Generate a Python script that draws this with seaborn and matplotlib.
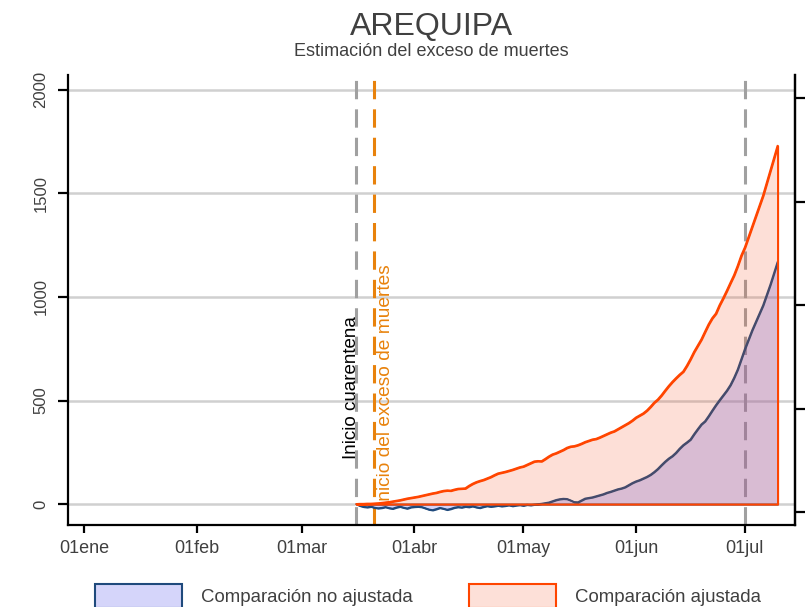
import matplotlib
matplotlib.use("Agg")
import numpy as np
import pandas as pd
import matplotlib.pyplot as plt
from matplotlib.patches import Patch
import seaborn as sns

# ---------------- data ----------------
start_date = "2020-03-16"
end_date = "2020-07-10"

adjusted = [
    0, 1, 1, 2, 2, 3, 4, 6, 8, 10,
    13, 16, 19, 23, 27, 30, 33, 36, 40, 44,
    48, 52, 55, 60, 64, 66, 65, 70, 74, 75,
    76, 88, 98, 106, 112, 117, 124, 131, 140, 148,
    152, 156, 161, 166, 172, 178, 182, 190, 198, 206,
    208, 207, 218, 230, 240, 246, 254, 262, 272, 278,
    280, 285, 292, 300, 306, 312, 315, 322, 330, 338,
    346, 352, 362, 372, 382, 392, 404, 418, 428, 438,
    452, 470, 490, 505, 525, 548, 570, 590, 608, 625,
    640, 668, 700, 735, 765, 795, 832, 868, 898, 920,
    960, 994, 1030, 1068, 1105, 1150, 1200, 1240, 1290, 1340,
    1390, 1440, 1490, 1550, 1610, 1670, 1730,
]

unadjusted = [
    0, -8, -13, -15, -12, -17, -20, -18, -14, -19,
    -22, -16, -12, -17, -21, -15, -13, -12, -14, -20,
    -26, -29, -24, -18, -22, -27, -23, -17, -14, -16,
    -12, -14, -10, -15, -18, -13, -9, -12, -10, -7,
    -10, -8, -5, -9, -6, -4, -7, -3, -5, -2,
    0, 2, 5, 8, 14, 20, 24, 26, 25, 18,
    10, 9, 18, 27, 30, 33, 38, 43, 48, 55,
    60, 66, 72, 76, 82, 92, 102, 110, 116, 124,
    132, 142, 155, 170, 188, 205, 220, 232, 248, 268,
    285, 298, 312, 338, 362, 385, 400, 425, 452, 478,
    502, 525, 548, 575, 610, 650, 700, 750, 795, 840,
    880, 920, 960, 1010, 1060, 1115, 1170,
]

month_ticks = ["2020-01-01", "2020-02-01", "2020-03-01", "2020-04-01",
               "2020-05-01", "2020-06-01", "2020-07-01"]
month_labels = ["01ene", "01feb", "01mar", "01abr", "01may", "01jun", "01jul"]
y_ticks = [0, 500, 1000, 1500, 2000]

quarantine_date = "2020-03-16"
excess_date = "2020-03-21"
reference_date = "2020-07-01"

title = "AREQUIPA"
subtitle = "Estimación del exceso de muertes"
label_unadj = "Comparación no ajustada"
label_adj = "Comparación ajustada"
label_quarantine = "Inicio cuarentena"
label_excess = "Inicio del exceso de muertes"

# ---------------- style ----------------
sns.set_theme(style="white")
plt.rcParams["font.family"] = ["Liberation Sans", "DejaVu Sans"]

df = pd.DataFrame({
    "fecha": pd.date_range(start_date, end_date, freq="D"),
    "ajustada": adjusted,
    "no_ajustada": unadjusted,
})

TXT = "#404040"
NAVY = "#1f4a7c"
ORED = "#ff4500"
DORANGE = "#e8820c"
GRAYD = "#a0a0a0"

fig, ax = plt.subplots(figsize=(8.1, 6.07), dpi=100)
fig.subplots_adjust(left=68 / 810, right=795 / 810, bottom=1 - 525 / 607, top=1 - 75 / 607)

# grid
ax.set_yticks(y_ticks)
ax.yaxis.grid(True, color="#d0d0d0", lw=1.8, zorder=0)
ax.xaxis.grid(False)
ax.set_axisbelow(True)

# vertical reference lines
for d, c in [(quarantine_date, GRAYD), (excess_date, DORANGE), (reference_date, GRAYD)]:
    ax.axvline(pd.Timestamp(d), color=c, lw=2.2, dashes=(6, 3.3), zorder=1)

# annotations
ax.annotate(label_quarantine, xy=(pd.Timestamp(quarantine_date), 220), xytext=(2.5, 0),
            textcoords="offset points", rotation=90, ha="right", va="bottom",
            fontsize=13.5, color="black", zorder=1)
ax.annotate(label_excess, xy=(pd.Timestamp(excess_date), -10), xytext=(1.5, 0),
            textcoords="offset points", rotation=90, ha="left", va="bottom",
            fontsize=13.8, color=DORANGE, zorder=1)

# unadjusted (blue)
ax.fill_between(df["fecha"], 0, df["no_ajustada"], facecolor=(0.39, 0.39, 0.94, 0.27),
                edgecolor=NAVY, lw=1.3, zorder=2)
sns.lineplot(data=df, x="fecha", y="no_ajustada", color=NAVY, lw=1.3, ax=ax, zorder=3)

# adjusted (orange)
ax.fill_between(df["fecha"], 0, df["ajustada"], facecolor=(0.957, 0.325, 0.149, 0.18),
                edgecolor=ORED, lw=1.5, zorder=4)
sns.lineplot(data=df, x="fecha", y="ajustada", color=ORED, lw=1.5, ax=ax, zorder=5)

# axes limits & ticks
x0 = pd.Timestamp("2020-01-01")
ax.set_xlim(x0 - pd.Timedelta(days=4.4), x0 + pd.Timedelta(days=195.8))
ax.set_ylim(-101, 2072)
ax.set_xticks(pd.to_datetime(month_ticks))
ax.set_xticklabels(month_labels)
ax.set_yticklabels([str(v) for v in y_ticks])
ax.set_xlabel("")
ax.set_ylabel("")

for side in ["left", "bottom", "right"]:
    ax.spines[side].set_visible(True)
    ax.spines[side].set_color("black")
    ax.spines[side].set_linewidth(1.6)
ax.spines["top"].set_visible(False)

ax.tick_params(axis="x", which="major", bottom=True, direction="out", length=6, width=1.6,
               color="black", labelsize=13, labelcolor=TXT, pad=5)
ax.tick_params(axis="y", which="major", left=True, direction="out", length=7, width=1.6,
               color="black", labelsize=12, labelcolor=TXT, pad=7)
plt.setp(ax.get_yticklabels(), rotation=90, va="center")

# right axis (ticks only, no labels)
ax2 = ax.twinx()
lo, hi = ax.get_ylim()
ax2.set_ylim(lo + 40, hi + 40)
ax2.set_yticks(y_ticks)
ax2.set_yticklabels([])
ax2.tick_params(axis="y", right=True, direction="out", length=7.5, width=1.6, color="black")
ax2.grid(False)
for side in ["left", "top", "bottom"]:
    ax2.spines[side].set_visible(False)
ax2.spines["right"].set_color("black")
ax2.spines["right"].set_linewidth(1.6)

# titles
ax.text(0.5, (525 - 35) / 450, title, transform=ax.transAxes, ha="center", va="baseline",
        fontsize=23, color=TXT)
ax.text(0.5, (525 - 56) / 450, subtitle, transform=ax.transAxes, ha="center", va="baseline",
        fontsize=13, color=TXT)

# legend
handles = [
    Patch(facecolor="#d5d5fa", edgecolor=NAVY, lw=1.5, label=label_unadj),
    Patch(facecolor="#fde0d8", edgecolor=ORED, lw=1.5, label=label_adj),
]
fig.legend(handles=handles, loc="upper left", bbox_to_anchor=(95 / 810, 1 - 584 / 607),
           ncol=2, frameon=False, fontsize=13.4, handlelength=4.7, handleheight=1.6,
           handletextpad=1.0, columnspacing=3.0, borderpad=0, borderaxespad=0,
           labelcolor=TXT)

fig.savefig("out.png", dpi=100)
